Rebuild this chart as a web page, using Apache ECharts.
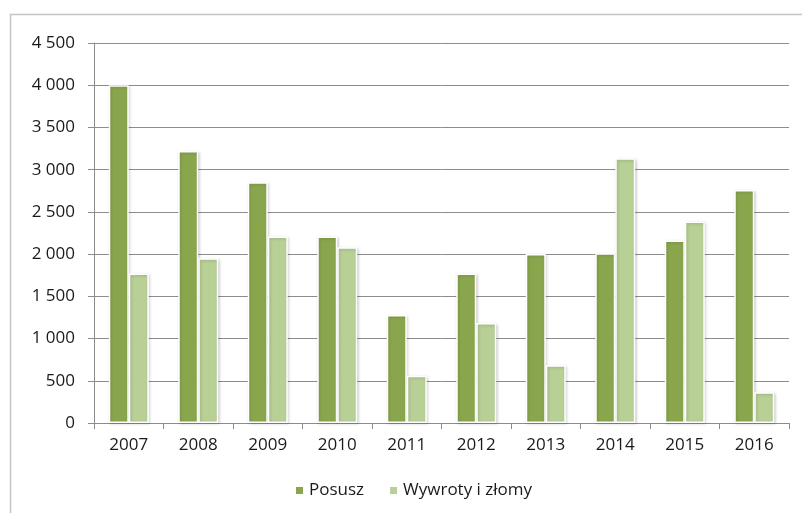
<!DOCTYPE html>
<html>
<head>
<meta charset="utf-8">
<script src="https://cdn.jsdelivr.net/npm/echarts@6/dist/echarts.min.js"></script>
<style>html,body{margin:0;padding:0;background:#fff}#c{width:802px;height:513px}</style>
</head>
<body>
<div id="c"></div>
<script>
const categories = ['2007','2008','2009','2010','2011','2012','2013','2014','2015','2016'];
const posusz = [4000, 3220, 2850, 2210, 1280, 1770, 2000, 2010, 2160, 2760];
const wywroty = [1770, 1950, 2210, 2080, 560, 1185, 685, 3135, 2385, 365];
const seriesNames = ['Posusz', 'Wywroty i złomy'];

const chart = echarts.init(document.getElementById('c'), null, {renderer: 'canvas'});
const font = '"Open Sans", sans-serif';
const barStyle = (color) => ({
  color: color,
  borderColor: '#ffffff',
  borderWidth: 1.5,
  shadowColor: 'rgba(0,0,0,0.18)',
  shadowBlur: 3,
  shadowOffsetX: 1,
  shadowOffsetY: 1
});
chart.setOption({
  animation: false,
  backgroundColor: '#ffffff',
  graphic: [{
    type: 'rect',
    left: 8, top: 12,
    shape: {width: 820, height: 520},
    style: {fill: 'none', stroke: '#c4c4c4', lineWidth: 1.5},
    silent: true
  }],
  grid: {left: 94, right: 13, top: 43, bottom: 90, containLabel: false},
  legend: {
    data: seriesNames,
    left: 289,
    top: 477,
    itemWidth: 9,
    itemHeight: 9,
    itemGap: 24,
    icon: 'rect',
    textStyle: {fontFamily: font, fontSize: 17, color: '#1a1a1a'}
  },
  xAxis: {
    type: 'category',
    data: categories,
    axisLine: {lineStyle: {color: '#8c8c8c', width: 1}},
    axisTick: {show: true, length: 6, alignWithLabel: false, lineStyle: {color: '#8c8c8c'}},
    axisLabel: {fontFamily: font, fontSize: 17, color: '#1a1a1a', margin: 14}
  },
  yAxis: {
    type: 'value',
    min: 0, max: 4500, interval: 500,
    axisLine: {show: true, lineStyle: {color: '#8c8c8c', width: 1}},
    axisTick: {show: true, length: 6, lineStyle: {color: '#8c8c8c'}},
    splitLine: {lineStyle: {color: '#8c8c8c', width: 1}},
    axisLabel: {
      fontFamily: font, fontSize: 17, color: '#1a1a1a', margin: 19,
      formatter: v => String(v).replace(/\B(?=(\d{3})+(?!\d))/g, ' ')
    }
  },
  series: [
    {name: seriesNames[0], type: 'bar', data: posusz, barWidth: 20, barGap: '0%', itemStyle: barStyle('#8aa64d')},
    {name: seriesNames[1], type: 'bar', data: wywroty, barWidth: 20, barGap: '0%', itemStyle: barStyle('#b8cf96')}
  ]
});
</script>
</body>
</html>
